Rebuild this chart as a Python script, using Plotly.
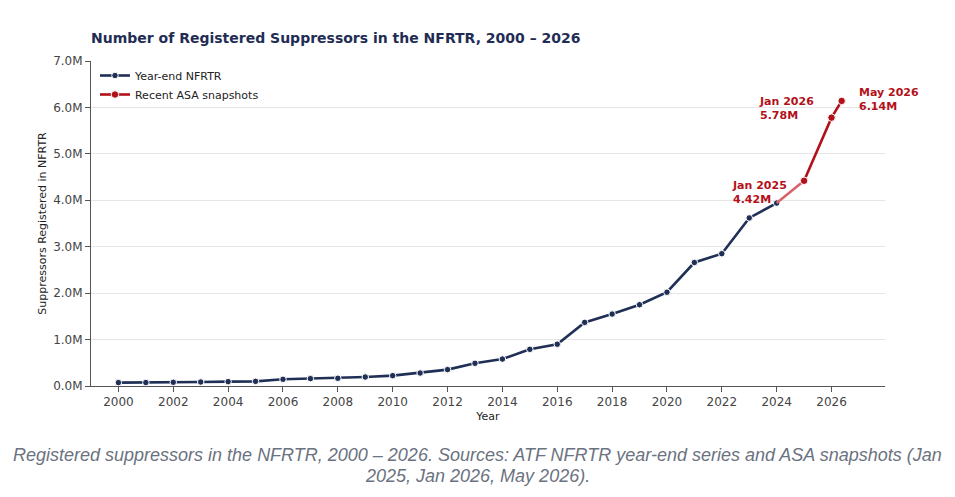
import plotly.graph_objects as go

# ---- data ----
years = list(range(2000, 2025))
nfrtr_millions = [0.073, 0.074, 0.080, 0.086, 0.094, 0.100, 0.144, 0.159, 0.166, 0.194,
                  0.223, 0.280, 0.353, 0.489, 0.580, 0.790, 0.900, 1.370, 1.550, 1.750,
                  2.020, 2.660, 2.850, 3.620, 3.940]
snap_x = [2025.0, 2026.0, 2026.37]
snap_millions = [4.42, 5.78, 6.14]
snap_labels = ["Jan 2025<br>4.42M", "Jan 2026<br>5.78M", "May 2026<br>6.14M"]
label_x = [2022.31, 2023.3, 2026.93]
label_y = [4.17, 5.98, 6.17]
x_ticks = list(range(2000, 2027, 2))
y_ticks = [0, 1, 2, 3, 4, 5, 6, 7]
y_tick_text = ["0.0M", "1.0M", "2.0M", "3.0M", "4.0M", "5.0M", "6.0M", "7.0M"]
caption_lines = [
    "Registered suppressors in the NFRTR, 2000 – 2026. Sources: ATF NFRTR year-end series and ASA snapshots (Jan",
    "2025, Jan 2026, May 2026).",
]

NAVY = "#1f2f56"
RED = "#b3111a"
LIGHT_RED = "#d8646b"
FONT = "DejaVu Sans"

fig = go.Figure()

fig.add_trace(go.Scatter(
    x=years, y=nfrtr_millions, mode="lines+markers", name="Year-end NFRTR",
    line=dict(color=NAVY, width=2.6),
    marker=dict(color=NAVY, size=6.5, line=dict(color="white", width=1)),
))
fig.add_trace(go.Scatter(
    x=[years[-1], snap_x[0]], y=[nfrtr_millions[-1], snap_millions[0]],
    mode="lines", showlegend=False, hoverinfo="skip",
    line=dict(color=LIGHT_RED, width=2.6),
))
fig.add_trace(go.Scatter(
    x=snap_x, y=snap_millions, mode="lines+markers", name="Recent ASA snapshots",
    line=dict(color=RED, width=2.6),
    marker=dict(color=RED, size=7.5, line=dict(color="white", width=1)),
))

for tx, ty, txt in zip(label_x, label_y, snap_labels):
    fig.add_annotation(x=tx, y=ty, xref="x", yref="y", text="<b>" + txt + "</b>",
                       showarrow=False, xanchor="left", yanchor="middle", align="left",
                       font=dict(family=FONT, size=11, color=RED))

for cy, line in zip([-0.2132, -0.2763], caption_lines):
    fig.add_annotation(
        x=0.487, y=cy, xref="paper", yref="paper", showarrow=False,
        xanchor="center", yanchor="middle", align="center", text=line,
        font=dict(family="Liberation Sans", size=18, color="#6b7280", style="italic"),
    )

fig.update_layout(
    width=955, height=497,
    margin=dict(l=91, r=70, t=61, b=111),
    paper_bgcolor="white", plot_bgcolor="white",
    font=dict(family=FONT, size=12, color="#444"),
    title=dict(text="<b>Number of Registered Suppressors in the NFRTR, 2000 – 2026</b>",
               x=91 / 955, xanchor="left", y=1 - 38 / 497, yanchor="middle",
               font=dict(family=FONT, size=14, color="#1f2d55")),
    legend=dict(x=0.005, y=1.0, xanchor="left", yanchor="top",
                bgcolor="rgba(255,255,255,0)", font=dict(family=FONT, size=11, color="#222"),
                itemwidth=30, tracegroupgap=0),
    showlegend=True,
)

fig.update_xaxes(
    range=[1999.0, 2027.95], tickvals=x_ticks, ticks="outside", ticklen=5, tickcolor="#555",
    showline=True, linecolor="#555", linewidth=1, showgrid=False, zeroline=False,
    tickfont=dict(family=FONT, size=12, color="#444"),
    title=dict(text="Year", font=dict(family=FONT, size=11, color="#222"), standoff=3),
)
fig.update_yaxes(
    range=[0, 7], tickvals=y_ticks, ticktext=y_tick_text,
    ticks="outside", ticklen=5, tickcolor="#555",
    showline=True, linecolor="#555", linewidth=1, showgrid=True, gridcolor="#e6e6e6",
    zeroline=False, tickfont=dict(family=FONT, size=12, color="#444"),
    title=dict(text="Suppressors Registered in NFRTR", font=dict(family=FONT, size=11, color="#222"), standoff=4),
)

fig.write_html("out.html")
